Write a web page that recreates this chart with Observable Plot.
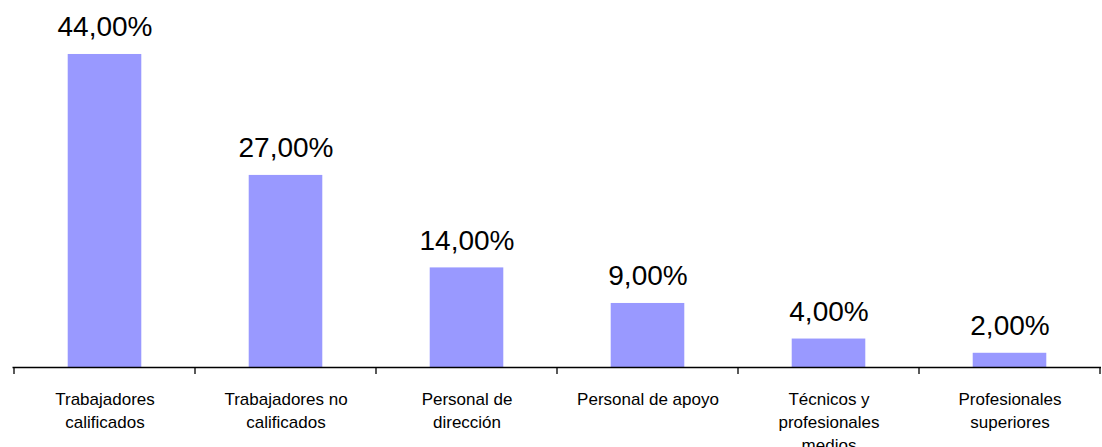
<!DOCTYPE html>
<html>
<head>
<meta charset="utf-8">
<script src="https://cdn.jsdelivr.net/npm/d3@7"></script>
<script src="https://cdn.jsdelivr.net/npm/@observablehq/plot@0.6"></script>
<style>
  html, body { margin: 0; padding: 0; background: #fff; }
  #chart { width: 1102px; height: 447px; overflow: hidden; }
</style>
</head>
<body>
<div id="chart"></div>
<script>
const categories = [
  "Trabajadores\ncalificados",
  "Trabajadores no\ncalificados",
  "Personal de\ndirección",
  "Personal de apoyo",
  "Técnicos y\nprofesionales\nmedios",
  "Profesionales\nsuperiores"
];
const values = [44, 27, 14, 9, 4, 2];

const data = categories.map((c, i) => ({category: c, value: values[i]}));
const fmt = v => v.toFixed(2).replace(".", ",") + "%";

const W = 1102, H = 447;
const mL = 12.5, mR = 1, mT = 11.3, mB = 80;
const bandW = (W - mL - mR) / categories.length;
const barW = 74;
const inset = (bandW - barW) / 2;

function boundaryTicks(index, scales, values, dims) {
  const x = scales.x, y = scales.y;
  const bw = typeof x.bandwidth === "function" ? x.bandwidth() : x.bandwidth;
  const y0 = y(0);
  const xs = categories.map(c => x(c));
  xs.push(x(categories[categories.length - 1]) + bw);
  const g = d3.create("svg:g").attr("stroke", "#000").attr("stroke-width", 1.3);
  for (const xv of xs) {
    g.append("line").attr("x1", xv).attr("x2", xv).attr("y1", y0).attr("y2", y0 + 7);
  }
  return g.node();
}

const chart = Plot.plot({
  width: W,
  height: H,
  marginLeft: mL,
  marginRight: mR,
  marginTop: mT,
  marginBottom: mB,
  style: {fontFamily: "'Liberation Sans', Arial, sans-serif", background: "#fff", color: "#000", overflow: "visible"},
  x: {type: "band", domain: categories, padding: 0, axis: null},
  y: {domain: [0, 50], axis: null},
  marks: [
    Plot.barY(data, {x: "category", y: "value", fill: "#9999FF", insetLeft: inset, insetRight: inset}),
    Plot.ruleY([0], {stroke: "#000", strokeWidth: 1.3}),
    boundaryTicks,
    Plot.text(data, {x: "category", y: "value", text: d => fmt(d.value), lineAnchor: "bottom", dy: -18, fontSize: 28, fill: "#000"}),
    Plot.text(data, {x: "category", y: () => 0, text: "category", lineAnchor: "top", dy: 21, fontSize: 17, lineHeight: 1.35, fill: "#000"})
  ]
});
document.getElementById("chart").appendChild(chart);
</script>
</body>
</html>
